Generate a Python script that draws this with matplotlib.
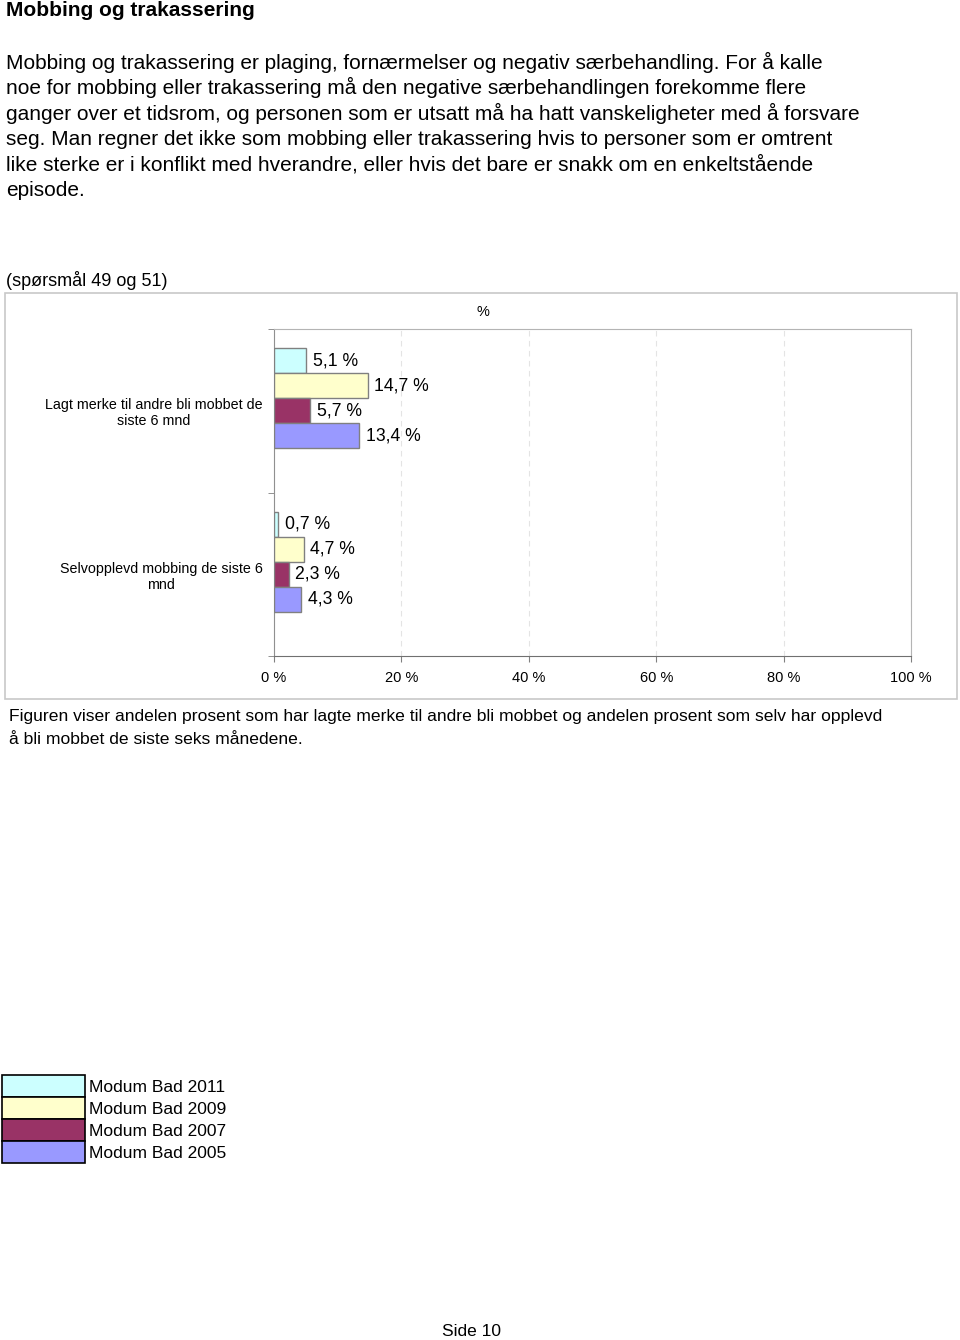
import numpy as np
import matplotlib
matplotlib.use("Agg")
import matplotlib.pyplot as plt
from matplotlib.patches import Rectangle

plt.rcParams['font.family'] = ['Liberation Sans', 'DejaVu Sans']

# data
categories = ["Lagt merke til andre bli mobbet de\nsiste 6 mnd",
              "Selvopplevd mobbing de siste 6\nmnd"]
series = ["Modum Bad 2011", "Modum Bad 2009", "Modum Bad 2007", "Modum Bad 2005"]
values = [[5.1, 0.7],
          [14.7, 4.7],
          [5.7, 2.3],
          [13.4, 4.3]]
colors = ["#CCFFFF", "#FFFFCC", "#993366", "#9999FF"]
xticks = [0, 20, 40, 60, 80, 100]

intro = ["Mobbing og trakassering er plaging, fornærmelser og negativ særbehandling. For å kalle",
         "noe for mobbing eller trakassering må den negative særbehandlingen forekomme flere",
         "ganger over et tidsrom, og personen som er utsatt må ha hatt vanskeligheter med å forsvare",
         "seg. Man regner det ikke som mobbing eller trakassering hvis to personer som er omtrent",
         "like sterke er i konflikt med hverandre, eller hvis det bare er snakk om en enkeltstående",
         "episode."]
caption = ["Figuren viser andelen prosent som har lagte merke til andre bli mobbet og andelen prosent som selv har opplevd",
           "å bli mobbet de siste seks månedene."]

W, H = 960, 1340
fig = plt.figure(figsize=(W / 100, H / 100), dpi=100)

def fy(py):
    return 1 - py / H

# header text
fig.text(6 / W, fy(11), "Mobbing og trakassering", fontsize=15, fontweight='bold', va='center')
for i, line in enumerate(intro):
    fig.text(6 / W, fy(62 + i * 25.8), line, fontsize=15, va='center')
fig.text(6 / W, fy(280), "(spørsmål 49 og 51)", fontsize=13, va='center')

# chart frame
fig.patches.append(Rectangle((5 / W, fy(699)), 952 / W, 406 / H, transform=fig.transFigure,
                             fill=False, edgecolor='#c8c8c8', linewidth=1.2))
fig.text(483 / W, fy(312), "%", fontsize=10.5, ha='center', va='center')

ax = fig.add_axes([274 / W, fy(656), 637 / W, 327 / H])
bar_h = 0.153
y = np.arange(len(categories))
for k, (name, vals, c) in enumerate(zip(series, values, colors)):
    pos = y + (k - 2.5) * bar_h
    bars = ax.barh(pos, vals, height=bar_h, align='edge', color=c, edgecolor='#808080',
                   linewidth=1.0, label=name, zorder=3)
    for b, v in zip(bars, vals):
        ax.annotate(f"{v:.1f} %".replace('.', ','), (b.get_width(), b.get_y() + b.get_height() / 2),
                    xytext=(4.5, 0), textcoords='offset points', va='center', ha='left', fontsize=12.7)

ax.set_xlim(0, 100)
ax.set_ylim(1.5, -0.5)
ax.set_xticks(xticks)
ax.set_xticklabels([f"{t} %" for t in xticks], fontsize=10.5)
ax.set_yticks(y)
ax.set_yticklabels(categories, fontsize=10.3, multialignment='center')
ax.set_yticks([-0.5, 0.5, 1.5], minor=True)
ax.tick_params(axis='y', which='major', length=0, pad=8)
ax.tick_params(axis='y', which='minor', length=4, color='#808080', direction='out')
ax.tick_params(axis='x', length=4, color='#808080', pad=7)
ax.grid(axis='x', linestyle=(0, (5, 4)), color='#e4e4e4', linewidth=0.8, zorder=0)
for side in ['top', 'right']:
    ax.spines[side].set_color('#b4b4b4')
ax.spines['left'].set_color('#909090')
ax.spines['bottom'].set_color('#707070')

for i, line in enumerate(caption):
    fig.text(9 / W, fy(717 + i * 22), line, fontsize=12.6, va='center')

leg = fig.legend(loc='upper left', bbox_to_anchor=(2 / W, fy(1075)), frameon=False, fontsize=12.5,
                 handlelength=4.77, handleheight=1.57, labelspacing=0, handletextpad=0.23,
                 borderpad=0, borderaxespad=0)
for h in leg.legend_handles:
    h.set_edgecolor('black')
    h.set_linewidth(1.2)

fig.text(472 / W, fy(1331), "Side 10", fontsize=12.5, ha='center', va='center')

fig.savefig("out.png", dpi=100)
